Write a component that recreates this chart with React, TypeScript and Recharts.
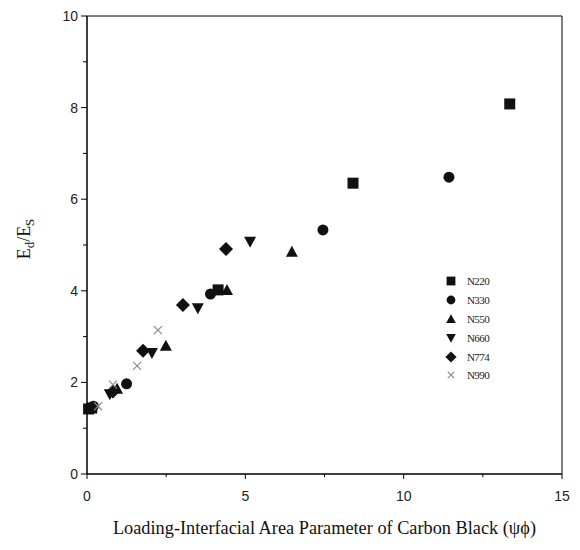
import { ScatterChart, Scatter, XAxis, YAxis, ReferenceArea, Legend } from "recharts";

// values
const n220X = [0.05, 0.15, 4.14, 8.4, 13.35];
const n220Y = [1.42, 1.44, 4.02, 6.35, 8.08];
const n330X = [0.2, 1.25, 3.9, 7.45, 11.43];
const n330Y = [1.48, 1.97, 3.93, 5.33, 6.48];
const n550X = [0.95, 2.49, 4.42, 6.47];
const n550Y = [1.86, 2.8, 4.02, 4.85];
const n660X = [0.72, 2.05, 3.5, 5.15];
const n660Y = [1.74, 2.64, 3.62, 5.07];
const n774X = [0.82, 1.77, 3.03, 4.39];
const n774Y = [1.8, 2.69, 3.69, 4.91];
const n990X = [0.35, 0.82, 1.58, 2.24];
const n990Y = [1.48, 1.95, 2.36, 3.14];

const xTicks = [0, 2.5, 5, 7.5, 10, 12.5, 15];
const xLabels = [0, 5, 10, 15];
const yTicks = [0, 1, 2, 3, 4, 5, 6, 7, 8, 9, 10];
const yLabels = [0, 2, 4, 6, 8, 10];

type Kind = "square" | "circle" | "up" | "down" | "diamond" | "x";

const series: { name: string; kind: Kind; xs: number[]; ys: number[] }[] = [
  { name: "N220", kind: "square", xs: n220X, ys: n220Y },
  { name: "N330", kind: "circle", xs: n330X, ys: n330Y },
  { name: "N550", kind: "up", xs: n550X, ys: n550Y },
  { name: "N660", kind: "down", xs: n660X, ys: n660Y },
  { name: "N774", kind: "diamond", xs: n774X, ys: n774Y },
  { name: "N990", kind: "x", xs: n990X, ys: n990Y },
];

const toPoints = (xs: number[], ys: number[]) => xs.map((x, i) => ({ x, y: ys[i] }));

function Marker({ kind, cx, cy, s = 1 }: { kind: Kind; cx: number; cy: number; s?: number }) {
  const fill = "#111";
  switch (kind) {
    case "square":
      return <rect x={cx - 5.5 * s} y={cy - 5.5 * s} width={11 * s} height={11 * s} fill={fill} />;
    case "circle":
      return <circle cx={cx} cy={cy} r={5.5 * s} fill={fill} />;
    case "up":
      return (
        <polygon
          points={`${cx},${cy - 6 * s} ${cx + 6 * s},${cy + 5 * s} ${cx - 6 * s},${cy + 5 * s}`}
          fill={fill}
        />
      );
    case "down":
      return (
        <polygon
          points={`${cx - 6 * s},${cy - 5 * s} ${cx + 6 * s},${cy - 5 * s} ${cx},${cy + 6 * s}`}
          fill={fill}
        />
      );
    case "diamond":
      return (
        <polygon
          points={`${cx},${cy - 7 * s} ${cx + 7 * s},${cy} ${cx},${cy + 7 * s} ${cx - 7 * s},${cy}`}
          fill={fill}
        />
      );
    default:
      return (
        <g stroke="#8a8a8a" strokeWidth={1.2}>
          <line x1={cx - 4 * s} y1={cy - 4 * s} x2={cx + 4 * s} y2={cy + 4 * s} />
          <line x1={cx - 4 * s} y1={cy + 4 * s} x2={cx + 4 * s} y2={cy - 4 * s} />
        </g>
      );
  }
}

const tickFont = { fontFamily: "'Liberation Sans', Arial, sans-serif", fontSize: 14, fill: "#222" };
const serif = "'Liberation Serif', 'Times New Roman', serif";

function XTick({ x, y, payload }: any) {
  const major = xLabels.includes(payload.value);
  return (
    <g>
      <line x1={x} y1={y} x2={x} y2={y + (major ? 5 : 3)} stroke="#000" />
      {major && (
        <text x={x} y={y + 27} textAnchor="middle" {...tickFont}>
          {payload.value}
        </text>
      )}
    </g>
  );
}

function YTick({ x, y, payload }: any) {
  const major = yLabels.includes(payload.value);
  return (
    <g>
      <line x1={x} y1={y} x2={x - (major ? 6 : 4)} y2={y} stroke="#000" />
      {major && (
        <text x={x - 9} y={y + 5} textAnchor="end" {...tickFont}>
          {payload.value}
        </text>
      )}
    </g>
  );
}

function LegendBox() {
  return (
    <div style={{ display: "flex", flexDirection: "column", gap: 0 }}>
      {series.map((s) => (
        <div key={s.name} style={{ display: "flex", alignItems: "center", height: 18.8 }}>
          <svg width={20} height={16}>
            <Marker kind={s.kind} cx={10} cy={8} s={0.8} />
          </svg>
          <span style={{ fontFamily: serif, fontSize: 11, color: "#222", marginLeft: 6, letterSpacing: -0.6 }}>
            {s.name}
          </span>
        </div>
      ))}
    </div>
  );
}

export default function App() {
  return (
    <div style={{ position: "absolute", left: 0, top: 0, background: "#fff" }}>
      <ScatterChart width={580} height={550} margin={{ top: 16, right: 18, bottom: 16, left: 20 }}>
        <XAxis
          type="number"
          dataKey="x"
          domain={[0, 15]}
          ticks={xTicks}
          interval={0}
          height={60}
          tickSize={0}
          tickMargin={0}
          tickLine={false}
          tick={<XTick />}
          axisLine={{ stroke: "#000" }}
          label={(p: any) => {
            const vb = p.viewBox;
            return (
              <text
                x={vb.x + vb.width / 2}
                y={vb.y + 60}
                textAnchor="middle"
                fontFamily={serif}
                fontSize={18.3}
                fill="#111"
              >
                Loading-Interfacial Area Parameter of Carbon Black (ψϕ)
              </text>
            );
          }}
        />
        <YAxis
          type="number"
          dataKey="y"
          domain={[0, 10]}
          ticks={yTicks}
          interval={0}
          width={67}
          tickSize={0}
          tickMargin={0}
          tickLine={false}
          tick={<YTick />}
          axisLine={{ stroke: "#000" }}
          label={(p: any) => {
            const vb = p.viewBox;
            const cx = vb.x + 10;
            const cy = vb.y + vb.height / 2 - 6;
            return (
              <text
                transform={`translate(${cx},${cy}) rotate(-90)`}
                textAnchor="middle"
                fontFamily={serif}
                fontSize={18}
                fill="#111"
              >
                E
                <tspan fontSize={13} dy={4}>d</tspan>
                <tspan dy={-4}>/E</tspan>
                <tspan fontSize={13} dy={4}>S</tspan>
              </text>
            );
          }}
        />
        <ReferenceArea x1={0} x2={15} y1={0} y2={10} fill="none" stroke="#000" strokeWidth={1} />
        {series.map((s) => (
          <Scatter
            key={s.name}
            name={s.name}
            data={toPoints(s.xs, s.ys)}
            isAnimationActive={false}
            shape={(p: any) => <Marker kind={s.kind} cx={p.cx} cy={p.cy} />}
          />
        ))}
        <Legend
          layout="vertical"
          align="center"
          verticalAlign="middle"
          content={() => <LegendBox />}
          wrapperStyle={{ left: 441, top: 272, width: 80, height: 115 }}
        />
      </ScatterChart>
    </div>
  );
}
